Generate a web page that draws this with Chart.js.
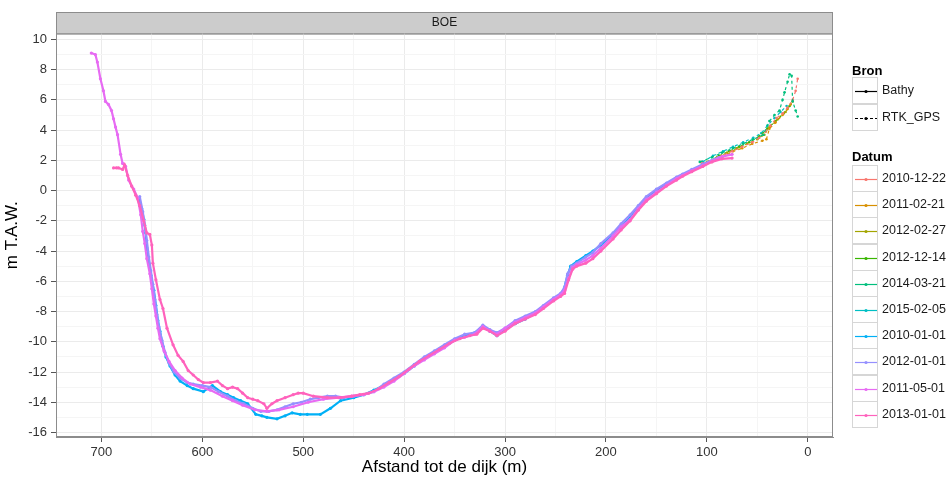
<!DOCTYPE html>
<html>
<head>
<meta charset="utf-8">
<script src="https://cdn.jsdelivr.net/npm/chart.js@4.4.1/dist/chart.umd.min.js"></script>
<style>
  html, body { margin: 0; padding: 0; background: #fff; }
  #wrap { position: relative; width: 952px; height: 479px; }
  #legend { position: absolute; left: 0; top: 0; width: 952px; height: 479px; font-family: "Liberation Sans", Arial, sans-serif; color: #000; }
  .lg-title { position: absolute; left: 852px; font-weight: bold; font-size: 13px; line-height: 16px; white-space: nowrap; }
  .lg-key { position: absolute; left: 852px; width: 26px; height: 27px; border: 1px solid #d6d6d6; box-sizing: border-box; background: #fff; }
  .lg-key svg { position: absolute; left: 0; top: 0; }
  .lg-label { position: absolute; left: 882px; font-size: 12.5px; line-height: 16px; white-space: nowrap; color: #1a1a1a; }
</style>
</head>
<body>
<div id="wrap">
  <canvas id="profile-chart" width="952" height="479"></canvas>
  <div id="legend"></div>
</div>
<script>
// Datum categories and colours (ggplot hue palette)
var datums = ["2010-12-22", "2011-02-21", "2012-02-27", "2012-12-14", "2014-03-21",
              "2015-02-05", "2010-01-01", "2012-01-01", "2011-05-01", "2013-01-01"];
var datumColors = ["#F8766D", "#D89000", "#A3A500", "#39B600", "#00BF7D",
                   "#00BFC4", "#00B0F6", "#9590FF", "#E76BF3", "#FF62BC"];
var bronLabels = ["Bathy", "RTK_GPS"];

var xTicks = [0, 50, 100, 150, 200, 250, 300, 350, 400, 450, 500, 550, 600, 650, 700];
var yTicks = [-16, -15, -14, -13, -12, -11, -10, -9, -8, -7, -6, -5, -4, -3, -2, -1, 0, 1, 2, 3, 4, 5, 6, 7, 8, 9, 10];

// RTK_GPS profiles near the dike
var d20101222 = [105, 95, 85, 75, 65, 55, 48, 42, 37, 31, 25, 20, 15, 12, 10];
var z20101222 = [1.8, 2.0, 2.3, 2.6, 2.9, 3.2, 3.5, 3.9, 4.3, 4.8, 5.1, 5.5, 6.0, 6.6, 7.4];
var d20110221 = [107, 95, 85, 74, 65, 55, 45, 41, 38, 32, 25, 20, 15];
var z20110221 = [1.6, 1.9, 2.2, 2.6, 2.8, 3.1, 3.3, 3.4, 4.1, 4.5, 5.0, 5.4, 5.9];
var d20120227 = [100, 90, 80, 70, 60, 50, 43, 38, 30, 22, 17];
var z20120227 = [1.9, 2.2, 2.5, 2.8, 3.1, 3.4, 3.7, 4.2, 4.7, 5.2, 5.7];
var d20121214 = [98, 88, 78, 68, 58, 48, 40, 32, 24, 18];
var z20121214 = [1.9, 2.3, 2.6, 2.9, 3.2, 3.6, 4.1, 4.6, 5.1, 5.6];
var d20140321 = [107, 95, 85, 74, 64, 54, 44, 38, 33, 28, 25, 23, 20, 18, 16, 15, 12, 10];
var z20140321 = [1.9, 2.2, 2.5, 2.8, 3.1, 3.4, 3.7, 4.6, 5.0, 5.3, 6.0, 6.5, 7.2, 7.7, 7.6, 5.9, 5.3, 4.9];
var d20150205 = [104, 94, 84, 74, 64, 54, 46, 40, 33, 27, 21];
var z20150205 = [1.9, 2.3, 2.6, 2.9, 3.2, 3.5, 3.8, 4.3, 4.8, 5.2, 5.6];

// Bathymetry profiles
var d20100101 = [663,660,658,656,655,653,651,648,646,644,642,639,636,632,627,622,615,609,599,590,
                 582,575,569,562,555,547,541,536,526,518,511,503,496,483,473,463,450,440,430,420,
                 410,400,390,380,370,360,350,340,330,322,315,308,300,290,280,270,262,252,245,242,
                 238,235,229,220,213,205,193,185,176,168,160,150,140,130,124,115,104,95];
var z20100101 = [-0.6,-1.2,-1.9,-2.8,-3.8,-4.8,-5.6,-6.6,-7.6,-8.6,-9.3,-10.3,-11.0,-11.6,-12.2,-12.6,-12.9,-13.1,-13.3,-12.9,
                 -13.3,-13.5,-13.7,-13.9,-14.1,-14.8,-14.9,-15.0,-15.1,-14.9,-14.7,-14.8,-14.8,-14.8,-14.4,-13.9,-13.7,-13.5,-13.2,-12.9,
                 -12.5,-12.1,-11.6,-11.1,-10.7,-10.3,-9.9,-9.6,-9.4,-9.0,-9.3,-9.6,-9.2,-8.8,-8.5,-8.1,-7.7,-7.2,-6.9,-6.6,
                 -5.6,-5.0,-4.7,-4.3,-4.0,-3.6,-2.9,-2.4,-1.8,-1.1,-0.5,0.0,0.4,0.8,1.05,1.35,1.7,1.95];
var d20120101 = [662,659,657,655,653,651,649,647,645,643,640,637,633,628,622,615,609,600,592,584,
                 575,567,559,550,542,534,526,518,510,502,493,485,476,468,460,450,440,430,420,410,
                 400,390,380,370,360,350,340,330,322,315,308,300,290,280,270,262,252,245,241,238,
                 234,229,220,213,205,193,185,176,168,160,150,140,130,124,115,104,95,88];
var z20120101 = [-0.4,-1.4,-2.3,-3.3,-4.4,-5.3,-6.2,-7.2,-8.2,-9.0,-9.9,-10.7,-11.4,-12.0,-12.4,-12.7,-12.8,-12.9,-13.0,-13.3,
                 -13.6,-13.9,-14.1,-14.4,-14.6,-14.6,-14.5,-14.3,-14.1,-14.0,-13.8,-13.7,-13.6,-13.6,-13.7,-13.6,-13.5,-13.3,-12.8,-12.4,
                 -12.0,-11.5,-11.0,-10.6,-10.2,-9.8,-9.5,-9.4,-8.9,-9.2,-9.4,-9.1,-8.6,-8.3,-8.0,-7.6,-7.1,-6.8,-6.4,-5.5,
                 -5.0,-4.8,-4.4,-4.1,-3.5,-2.8,-2.2,-1.6,-1.0,-0.4,0.1,0.5,0.9,1.1,1.4,1.75,2.0,2.2];
var d20110501 = [710,706,704,701,698,696,693,690,688,686,684,681,679,676,673,670,668,664,661,659,
                 657,655,652,650,648,646,644,642,638,633,627,620,612,602,592,580,570,560,548,536,
                 524,510,495,480,465,452,440,430,420,410,400,390,380,370,360,350,340,330,322,315,
                 308,300,290,280,270,262,252,245,241,237,233,229,220,213,205,193,185,176,168,160,
                 150,140,130,124,115,104,95,85,75];
var z20110501 = [9.1,9.0,8.5,7.4,6.6,5.9,5.7,5.3,4.75,4.2,3.7,2.4,1.8,1.6,0.7,0.3,0.1,-0.5,-1.6,-2.7,
                 -3.5,-4.5,-5.5,-6.5,-7.5,-8.3,-9.1,-9.8,-10.6,-11.3,-11.9,-12.4,-12.8,-13.0,-13.2,-13.6,-13.9,-14.2,-14.5,-14.6,
                 -14.5,-14.3,-14.0,-13.8,-13.7,-13.6,-13.5,-13.3,-13.0,-12.6,-12.1,-11.6,-11.2,-10.8,-10.4,-9.9,-9.7,-9.5,-9.0,-9.3,
                 -9.5,-9.1,-8.7,-8.4,-8.1,-7.7,-7.2,-6.9,-6.6,-5.8,-5.1,-4.9,-4.6,-4.3,-3.8,-3.0,-2.4,-1.9,-1.2,-0.6,
                 -0.1,0.35,0.8,1.0,1.3,1.65,1.95,2.25,2.4];
var d20130101 = [688,685,683,679,677,674,670,666,662,658,655,652,650,649,646,642,639,635,629,624,
                 619,614,609,604,599,592,585,580,575,570,565,560,555,550,545,539,536,531,526,518,
                 510,505,500,490,476,463,452,444,435,425,415,405,395,385,375,365,355,345,335,328,
                 322,315,308,300,290,280,270,262,252,245,241,237,233,229,220,213,205,193,185,176,
                 168,160,150,140,130,124,115,104,95,85,75];
var z20130101 = [1.5,1.5,1.5,1.4,1.7,1.0,0.3,-0.3,-1.0,-2.0,-2.8,-2.9,-3.6,-4.8,-5.9,-7.2,-7.8,-9.1,-10.2,-10.9,
                 -11.3,-11.9,-12.2,-12.5,-12.7,-12.7,-12.6,-12.9,-13.1,-13.0,-13.1,-13.4,-13.7,-13.8,-13.9,-14.1,-14.4,-14.1,-13.9,-13.7,
                 -13.5,-13.4,-13.4,-13.6,-13.7,-13.7,-13.6,-13.5,-13.4,-13.1,-12.7,-12.3,-11.8,-11.3,-10.9,-10.5,-10.1,-9.8,-9.6,-9.5,
                 -9.1,-9.3,-9.6,-9.3,-8.8,-8.5,-8.2,-7.8,-7.3,-7.0,-6.8,-5.9,-5.2,-5.0,-4.8,-4.5,-4.0,-3.2,-2.6,-2.0,
                 -1.3,-0.7,-0.2,0.3,0.7,0.95,1.25,1.6,1.9,2.1,2.15];

var profiles = [
  { datum: "2013-01-01", bron: "Bathy",   d: d20130101, z: z20130101 },
  { datum: "2011-05-01", bron: "Bathy",   d: d20110501, z: z20110501 },
  { datum: "2012-01-01", bron: "Bathy",   d: d20120101, z: z20120101 },
  { datum: "2010-01-01", bron: "Bathy",   d: d20100101, z: z20100101 },
  { datum: "2014-03-21", bron: "RTK_GPS", d: d20140321, z: z20140321 },
  { datum: "2010-12-22", bron: "RTK_GPS", d: d20101222, z: z20101222 },
  { datum: "2011-02-21", bron: "RTK_GPS", d: d20110221, z: z20110221 },
  { datum: "2012-02-27", bron: "RTK_GPS", d: d20120227, z: z20120227 },
  { datum: "2012-12-14", bron: "RTK_GPS", d: d20121214, z: z20121214 },
  { datum: "2015-02-05", bron: "RTK_GPS", d: d20150205, z: z20150205 }
];

var FONT = "'Liberation Sans', Arial, sans-serif";

var datasets = profiles.map(function(p, i) {
  var col = datumColors[datums.indexOf(p.datum)];
  var bathy = p.bron === "Bathy";
  return {
    label: p.datum + " " + p.bron,
    data: p.d.map(function(x, k) { return { x: x, y: p.z[k] }; }),
    showLine: true,
    borderColor: col,
    backgroundColor: col,
    borderWidth: bathy ? 2.2 : 1.2,
    borderDash: bathy ? [] : [3, 3],
    pointRadius: bathy ? 1.6 : 1.3,
    pointBorderWidth: 0,
    order: i
  };
});

var panelPlugin = {
  id: "panel",
  beforeDraw: function(chart) {
    var ctx = chart.ctx, a = chart.chartArea;
    ctx.save();
    ctx.fillStyle = "#cccccc";
    ctx.fillRect(a.left, 12, a.right - a.left, a.top - 12);
    ctx.strokeStyle = "#8c8c8c";
    ctx.lineWidth = 1;
    ctx.strokeRect(a.left + 0.5, 12.5, a.right - a.left - 1, a.top - 12);
    ctx.restore();
  },
  afterDraw: function(chart) {
    var ctx = chart.ctx, a = chart.chartArea;
    ctx.save();
    ctx.strokeStyle = "#8c8c8c";
    ctx.lineWidth = 1;
    ctx.strokeRect(a.left + 0.5, a.top + 0.5, a.right - a.left - 1, a.bottom - a.top - 1);
    ctx.restore();
  }
};

var ctx = document.getElementById("profile-chart").getContext("2d");
var chart = new Chart(ctx, {
  type: "scatter",
  data: { datasets: datasets },
  plugins: [panelPlugin],
  options: {
    responsive: false,
    animation: false,
    layout: { padding: { left: 0, right: 119, top: 12, bottom: 0 } },
    plugins: {
      legend: { display: false },
      tooltip: { enabled: false },
      title: {
        display: true, text: "BOE", fullSize: false, color: "#1a1a1a",
        font: { family: FONT, size: 12, weight: "normal" },
        padding: { top: 3, bottom: 4 }
      }
    },
    scales: {
      x: {
        type: "linear", reverse: true, min: -25, max: 745,
        afterBuildTicks: function(s) { s.ticks = xTicks.map(function(v) { return { value: v }; }); },
        afterFit: function(s) { s.height = 42; },
        ticks: {
          autoSkip: false, maxRotation: 0, padding: 3, color: "#333333",
          font: { family: FONT, size: 13 },
          callback: function(v) { return v % 100 === 0 ? String(v) : ""; }
        },
        grid: {
          color: function(c) { return c.tick && c.tick.value % 100 === 0 ? "#ebebeb" : "#f5f5f5"; },
          tickColor: function(c) { return c.tick && c.tick.value % 100 === 0 ? "#555555" : "rgba(0,0,0,0)"; },
          tickLength: 5, lineWidth: 1
        },
        border: { color: "#8c8c8c" },
        title: {
          display: true, text: "Afstand tot de dijk (m)", color: "#000",
          font: { family: FONT, size: 17 }, padding: { top: 0, bottom: 1 }
        }
      },
      y: {
        type: "linear", min: -16.3, max: 10.4,
        afterBuildTicks: function(s) { s.ticks = yTicks.map(function(v) { return { value: v }; }); },
        afterFit: function(s) { s.width = 56; },
        ticks: {
          autoSkip: false, padding: 4, color: "#333333",
          font: { family: FONT, size: 13 },
          callback: function(v) { return v % 2 === 0 ? String(v) : ""; }
        },
        grid: {
          color: function(c) { return c.tick && c.tick.value % 2 === 0 ? "#ebebeb" : "#f5f5f5"; },
          tickColor: function(c) { return c.tick && c.tick.value % 2 === 0 ? "#555555" : "rgba(0,0,0,0)"; },
          tickLength: 5, lineWidth: 1
        },
        border: { color: "#8c8c8c" },
        title: {
          display: true, text: "m T.A.W.", color: "#000",
          font: { family: FONT, size: 17 }, padding: { top: 2, bottom: 2 }
        }
      }
    }
  }
});

// legend (two groups, like ggplot)
var legend = document.getElementById("legend");
function keySvg(color, dashed) {
  return '<svg width="26" height="27"><line x1="2" y1="13.5" x2="24" y2="13.5" stroke="' + color +
    '" stroke-width="1.2"' + (dashed ? ' stroke-dasharray="3,2"' : '') + '/><circle cx="13" cy="13.5" r="1.6" fill="' +
    color + '"/></svg>';
}
function addTitle(text, top) {
  var t = document.createElement("div");
  t.className = "lg-title"; t.style.top = top + "px"; t.textContent = text;
  legend.appendChild(t);
}
function addEntry(text, color, dashed, top) {
  var k = document.createElement("div");
  k.className = "lg-key"; k.style.top = top + "px"; k.innerHTML = keySvg(color, dashed);
  legend.appendChild(k);
  var l = document.createElement("div");
  l.className = "lg-label"; l.style.top = (top + 5) + "px"; l.textContent = text;
  legend.appendChild(l);
}
addTitle("Bron", 63);
bronLabels.forEach(function(b, i) { addEntry(b, "#000", b === "RTK_GPS", 77 + i * 26.5); });
addTitle("Datum", 149);
datums.forEach(function(d, i) { addEntry(d, datumColors[i], false, 165 + i * 26.2); });
</script>
</body>
</html>
